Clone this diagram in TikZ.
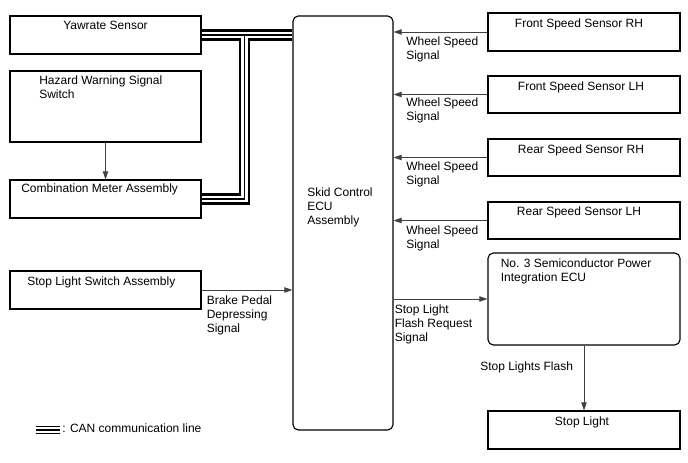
\documentclass[tikz,border=0pt]{standalone}
\usepackage{fontspec}
\setmainfont{Liberation Sans}
\usetikzlibrary{arrows.meta,fit}
\begin{document}
\begin{tikzpicture}[x=0.75pt,y=-0.75pt,
 box/.style={draw=black, line width=0.85pt, inner sep=0pt},
 rbox/.style={box, rounded corners=4pt},
 lbl/.style={inner sep=0pt, font=\fontsize{9}{10.5}\selectfont, align=left},
 arr/.style={draw=black!75, line width=0.65pt, -{Triangle[length=6pt,width=4pt]}},
]
\useasboundingbox (0,0) rectangle (688,463);
% boxes
\node[box, fit={(10,16)(201,54)}] (yaw) {};
\node[box, fit={(10,71)(201,142)}] (haz) {};
\node[box, fit={(10,180)(201,218)}] (comb) {};
\node[box, fit={(10,271)(201,309)}] (sls) {};
\node[rbox, fit={(293,16)(393,430)}] (ecu) {};
\node[box, fit={(488,13)(680,51)}] (frs) {};
\node[box, fit={(488,76)(680,113)}] (fls) {};
\node[box, fit={(488,139)(680,176)}] (rrs) {};
\node[box, fit={(488,202)(680,239)}] (rls) {};
\node[rbox, fit={(488,253)(680,345)}] (no3) {};
\node[box, fit={(488,411)(680,449)}] (stl) {};
% box texts
\node[lbl, anchor=north] (yawt) at (105.5,20.5) {Yawrate Sensor};
\node[lbl, anchor=north west] (hazt) at (39,75.5) {Hazard Warning Signal\\Switch};
\node[lbl, anchor=north west] (combt) at (21,183.5) {Combination Meter Assembly};
\node[lbl, anchor=north west] (slst) at (27,276.5) {Stop Light Switch Assembly};
\node[lbl, anchor=north west] (ecut) at (307,187.5) {Skid Control\\ECU\\Assembly};
\node[lbl, anchor=north] (frst) at (579,18.5) {Front Speed Sensor RH};
\node[lbl, anchor=north] (flst) at (581,81.5) {Front Speed Sensor LH};
\node[lbl, anchor=north] (rrst) at (581,144.5) {Rear Speed Sensor RH};
\node[lbl, anchor=north] (rlst) at (579,206.5) {Rear Speed Sensor LH};
\node[lbl, anchor=north west] (no3t) at (500.5,258.8) {No. 3 Semiconductor Power\\Integration ECU};
\node[lbl, anchor=north] (stlt) at (582,416.5) {Stop Light};
% connectors
\draw[arr] (frs.west) -- (frs.west -| ecu.east);
\draw[arr] (fls.west) -- (fls.west -| ecu.east);
\draw[arr] (rrs.west) -- (rrs.west -| ecu.east);
\draw[arr] (rls.west) -- (rls.west -| ecu.east);
\draw[arr] (sls.east) -- (sls.east -| ecu.west);
\draw[arr] (no3.west -| ecu.east) -- (no3.west);
\draw[arr] (haz.south) -- (comb.north);
\draw[arr] (no3.south) -- (stl.north);
% connector labels
\node[lbl, anchor=north west] (ws1) at (406,36.5) {Wheel Speed\\Signal};
\node[lbl, anchor=north west] (ws2) at (406,97.5) {Wheel Speed\\Signal};
\node[lbl, anchor=north west] (ws3) at (406,161.5) {Wheel Speed\\Signal};
\node[lbl, anchor=north west] (ws4) at (406,225.5) {Wheel Speed\\Signal};
\node[lbl, anchor=north west] (bpd) at (206.5,295.5) {Brake Pedal\\Depressing\\Signal};
\node[lbl, anchor=north west] (slf) at (394.5,304.5) {Stop Light\\Flash Request\\Signal};
\node[lbl, anchor=north west] (slfl) at (480,361.5) {Stop Lights Flash};
% CAN bus
\path (yaw.east) ++(43,0) coordinate (cj);
\foreach \w/\c in {8.6pt/black, 5.2pt/white, 1pt/black}{
  \draw[line width=\w, draw=\c] (yaw.east) -- (yaw.east -| ecu.west);
  \draw[line width=\w, draw=\c] (cj) |- (comb.east);
}
% legend
\draw[line width=1.3pt] (36,426.5) -- (60,426.5);
\draw[line width=1.3pt] (36,430) -- (60,430);
\draw[line width=1.3pt] (36,433.5) -- (60,433.5);
\node[lbl, anchor=north west] (leg) at (62,424) {: CAN communication line};
\end{tikzpicture}
\end{document}
